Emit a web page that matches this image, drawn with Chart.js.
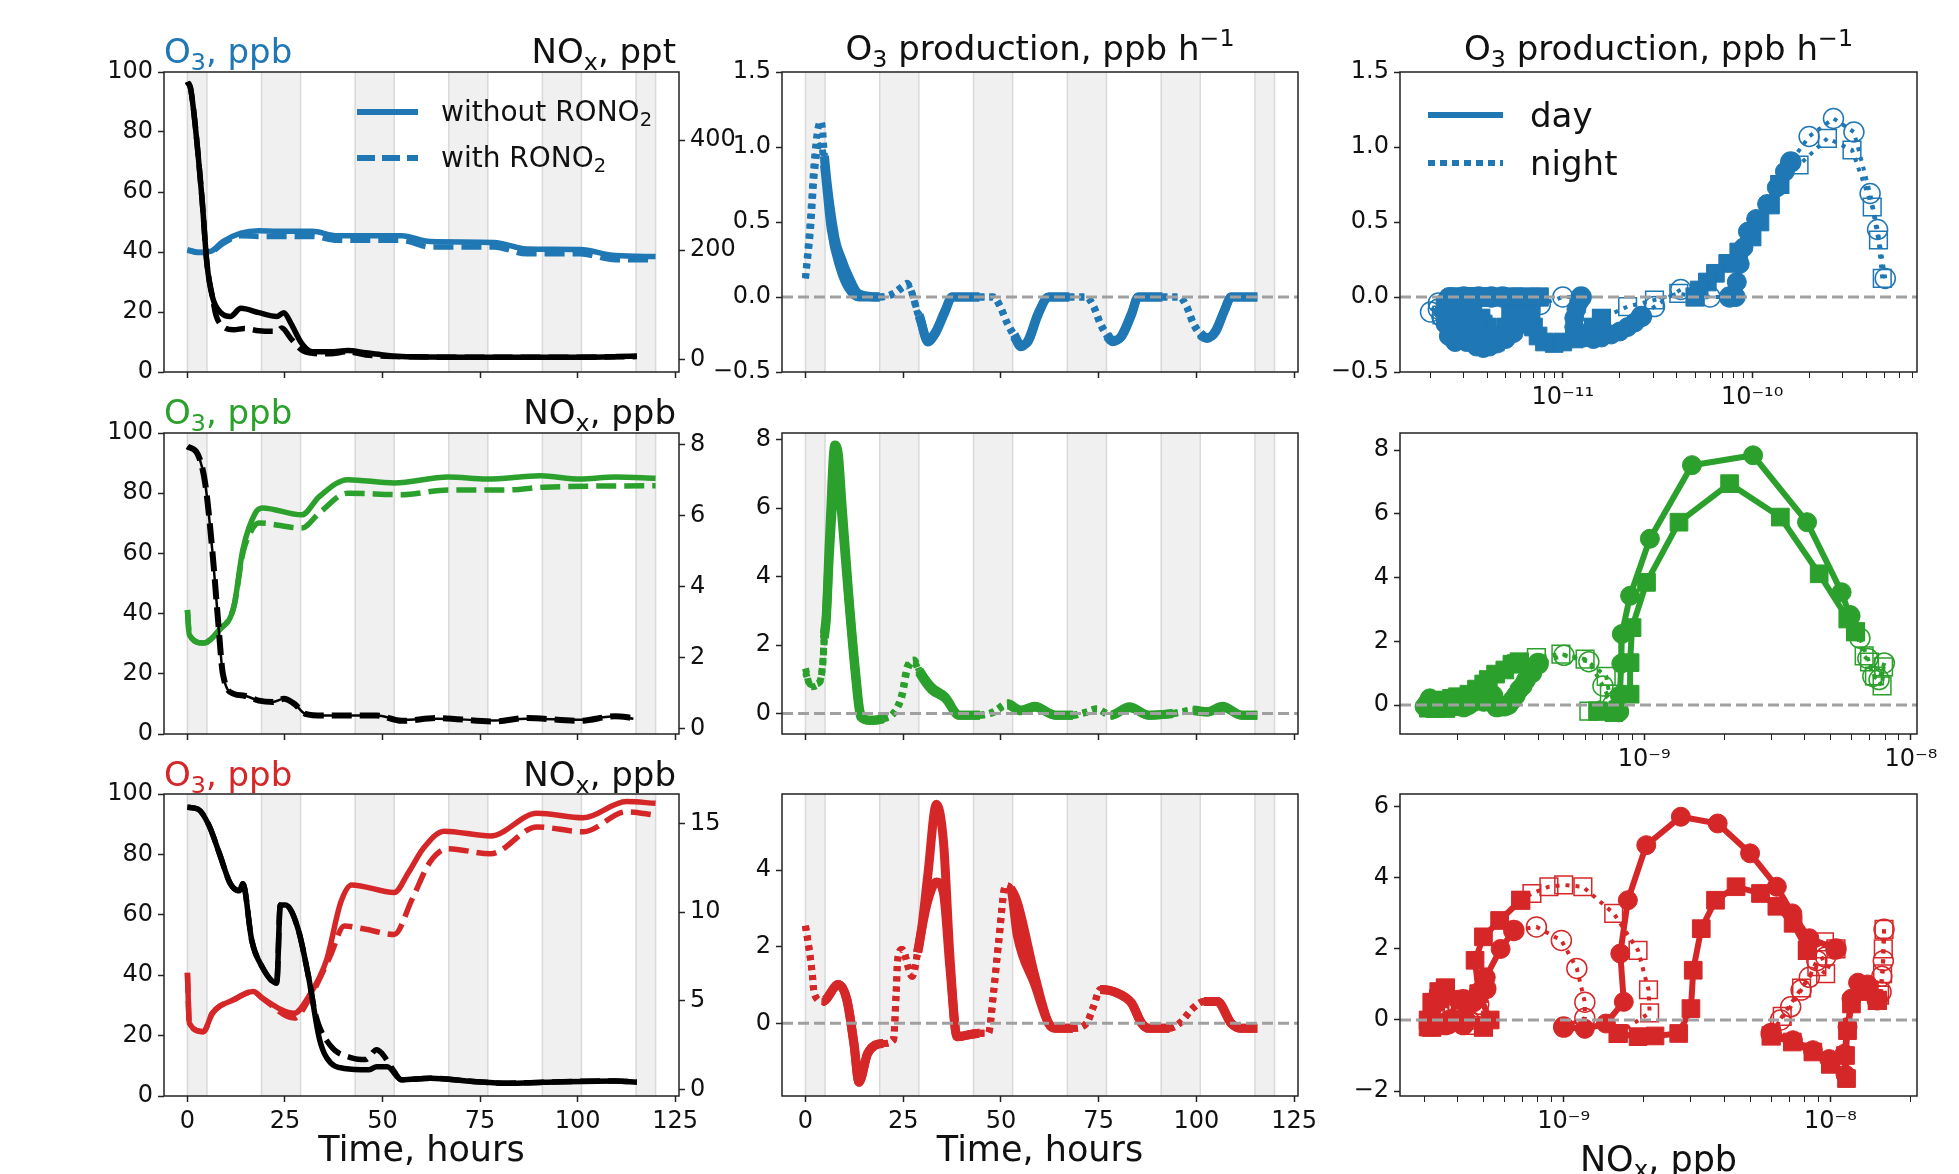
<!DOCTYPE html>
<html>
<head>
<meta charset="utf-8">
<title>O3 production and NOx</title>
<script src="https://cdn.jsdelivr.net/npm/chart.js@4.4.1/dist/chart.umd.min.js"></script>
<style>
  html, body { margin: 0; padding: 0; background: #fff; }
  body { position: relative; width: 1959px; height: 1174px; overflow: hidden; font-family: 'DejaVu Sans', sans-serif; }
  canvas { position: absolute; }
  .lbl { position: absolute; white-space: nowrap; line-height: 1; color: #111; }
  .lbl sub { font-size: 70%; vertical-align: -0.28em; line-height: 0; }
  .lbl sup { font-size: 70%; vertical-align: 0.6em; line-height: 0; }
  .key { position: absolute; }
</style>
</head>
<body>
<script>
// ---- values ----

// night periods (hours), shaded grey in the time panels
const nightBands = [[0, 5], [19, 29], [43, 53], [67, 77], [91, 101], [115, 120]];

// row 1 - O3 (ppb) and NOx (ppt)
const o3NoT1 = [0, 2.7, 5.9, 9.1, 13.7, 18.3, 22.9, 32, 38.4, 54.9, 62.2, 78.6, 86.9, 100.6, 109.7, 120];
const o3No1 = [40.8, 39.9, 40.2, 43.5, 46.3, 47.1, 46.9, 46.9, 45.4, 45.4, 43.5, 43.2, 41, 40.8, 38.8, 38.5];
const o3RoT1 = [0, 2.7, 5.9, 9.1, 13.7, 18.3, 32, 38.4, 54.9, 62.2, 78.6, 86.9, 100.6, 109.7, 120];
const o3Ro1 = [40.6, 39.8, 40, 42.8, 45.4, 45.2, 45.2, 43.9, 43.9, 41.7, 41.7, 39.4, 39.4, 37.4, 37.4];
const noxNoT1 = [0, 0.9, 3.7, 5, 6.4, 8.7, 11, 13.7, 18.3, 22.9, 24.7, 26.5, 29.3, 32, 36.6, 41.1, 45.7, 50.3, 54.9, 70, 85, 100, 110, 115.2];
const noxNo1 = [506, 491, 297, 176, 115, 85, 79, 94, 86, 79, 86, 67, 30, 15, 15, 17, 13, 9, 6, 5, 5, 5, 6, 7];
const noxRoT1 = [0, 0.9, 3.7, 5, 6.4, 7.3, 9.1, 11.9, 14.6, 18.3, 22.9, 24.2, 26.5, 29.3, 32, 36.6, 41.1, 45.7, 54.9, 70, 85, 100, 115.2];
const noxRo1 = [506, 491, 297, 176, 115, 82, 61, 55, 57, 53, 52, 58, 39, 18, 12, 11, 15, 9, 6, 5, 5, 5, 6];

// row 2 - O3 (ppb) and NOx (ppb)
const o3NoT2 = [0, 0.5, 4.1, 8.2, 11.9, 14.2, 17.4, 19.2, 29.3, 33.8, 41.1, 53, 66.8, 76.8, 90.5, 100.6, 109.7, 120];
const o3No2 = [41.2, 32.9, 30.2, 34.6, 42.3, 61.2, 73.4, 75.1, 72.8, 78.9, 84.5, 83.4, 85.4, 84.7, 85.8, 84.7, 85.4, 85];
const o3RoT2 = [0, 0.5, 4.1, 8.2, 11.9, 14.2, 16.5, 18.3, 29.3, 33.8, 41.1, 54.9, 66.8, 82.3, 91.4, 120];
const o3Ro2 = [41.2, 32.9, 30.2, 34.6, 42.3, 60, 67.8, 70.1, 68.4, 73.4, 80, 79.5, 81.1, 81.1, 82, 82.5];
const noxT2 = [0, 2.7, 4.6, 6.4, 7.8, 9.1, 11.9, 14.6, 18.3, 21.9, 24.7, 27.4, 30.2, 34.8, 48.5, 54.9, 64, 78.6, 86.9, 100.6, 109.7, 114.3];
const noxNo2 = [7.95, 7.72, 6.88, 5.0, 3.13, 1.54, 0.98, 0.93, 0.79, 0.75, 0.84, 0.70, 0.42, 0.37, 0.37, 0.25, 0.28, 0.23, 0.28, 0.25, 0.35, 0.28];
const noxRo2 = [7.95, 7.72, 6.88, 5.0, 3.13, 1.54, 0.98, 0.93, 0.79, 0.75, 0.84, 0.70, 0.42, 0.37, 0.37, 0.22, 0.3, 0.2, 0.3, 0.22, 0.35, 0.3];

// row 3 - O3 (ppb) and NOx (ppb)
const o3NoT3 = [0, 0.5, 4.1, 6.4, 11.9, 16.9, 19.2, 27.4, 31.1, 35.7, 39.3, 42.1, 53, 56.7, 60.4, 65.8, 77.7, 89.6, 101.5, 112.5, 120];
const o3No3 = [40.8, 24.1, 21.3, 27.4, 31.9, 34.6, 32.4, 27.4, 33, 45.2, 64.1, 69.9, 67.4, 74.1, 81.9, 87.7, 86.1, 93.6, 92.1, 97.5, 96.9];
const o3RoT3 = [0, 0.5, 4.1, 6.4, 11.9, 16.9, 19.2, 27.4, 31.1, 36.6, 40.2, 45.7, 53, 57.6, 62.2, 66.8, 77.7, 89.6, 101.5, 112.5, 120];
const o3Ro3 = [40.8, 24.1, 21.3, 27.4, 31.9, 34.6, 32.4, 25.8, 31.9, 46.3, 56.3, 55.2, 53.5, 65.2, 77.5, 81.9, 80.2, 89.1, 87.5, 94.1, 93];
const noxNoT3 = [0, 2.7, 5.5, 8.2, 11, 13.3, 14.2, 16.5, 19.2, 22.9, 23.8, 25.1, 28.3, 31.1, 33.8, 35.7, 40.2, 46.6, 48.5, 51.2, 54.9, 62.2, 73.2, 82.3, 91.4, 109.7, 115.2];
const noxNo3 = [15.9, 15.8, 14.9, 13.3, 11.6, 11.2, 11.6, 8.4, 6.9, 6.0, 10.4, 10.4, 9.1, 6.3, 2.9, 1.8, 1.2, 1.13, 1.3, 1.3, 0.56, 0.65, 0.47, 0.37, 0.43, 0.5, 0.43];
const noxRoT3 = [0, 2.7, 5.5, 8.2, 11, 13.3, 14.2, 16.5, 19.2, 22.9, 23.8, 25.1, 28.3, 31.1, 32.9, 36.6, 42.1, 45.7, 48.5, 49.8, 53, 54.9, 62.2, 73.2, 82.3, 91.4, 109.7, 115.2];
const noxRo3 = [15.9, 15.8, 14.9, 13.3, 11.6, 11.2, 11.6, 8.4, 6.9, 6.0, 10.4, 10.4, 9.1, 6.3, 4.2, 2.5, 1.8, 1.7, 2.26, 2.06, 1.03, 0.56, 0.65, 0.47, 0.37, 0.43, 0.5, 0.43];

// O3 production (ppb/h) against time
const prodNoT1 = [0, 1.3, 2.2, 3.1, 4.0, 4.4, 4.85, 7.5, 9.3, 11, 13.7, 19, 22.5, 24.7, 26, 27.3, 28.7, 29.1, 31.3, 33.1, 35.7, 37.5, 44.5, 48.1, 49.8, 51.6, 53.4, 55.1, 56.9, 59.5, 62.2, 67.5, 71.9, 73.7, 75.4, 77.2, 78.5, 80.7, 83.4, 85.1, 91.3, 95.7, 97.5, 99.2, 101, 102.8, 105, 107.2, 108.9, 115.6];
const prodNo1 = [0.124, 0.536, 0.89, 1.11, 1.17, 1.11, 0.94, 0.40, 0.25, 0.14, 0.02, 0, 0.024, 0.069, 0.091, 0.024, -0.109, -0.13, -0.287, -0.24, -0.09, 0, 0, 0, -0.066, -0.177, -0.264, -0.331, -0.29, -0.11, 0, 0, 0, -0.066, -0.18, -0.264, -0.298, -0.264, -0.109, 0, 0, 0, -0.066, -0.18, -0.253, -0.276, -0.22, -0.087, 0, 0];
const prodRoT1 = [0, 1.3, 2.2, 3.1, 4.0, 4.85, 6.6, 8.8, 11, 13.7, 19, 22.5, 24.7, 26, 27.3, 28.7, 29.1, 31.3, 33.1, 35.7, 37.5, 44.5, 48.1, 49.8, 51.6, 53.4, 55.1, 56.9, 59.5, 62.2, 67.5, 71.9, 73.7, 75.4, 77.2, 78.5, 80.7, 83.4, 85.1, 91.3, 95.7, 97.5, 99.2, 101, 102.8, 105, 107.2, 108.9, 115.6];
const prodRo1 = [0.124, 0.45, 0.80, 0.98, 1.01, 0.88, 0.45, 0.2, 0.06, 0, 0, 0.02, 0.06, 0.08, 0.02, -0.1, -0.12, -0.3, -0.25, -0.1, 0, 0, 0, -0.06, -0.17, -0.25, -0.32, -0.3, -0.12, 0, 0, 0, -0.06, -0.17, -0.25, -0.29, -0.27, -0.12, 0, 0, 0, -0.06, -0.17, -0.24, -0.27, -0.23, -0.09, 0, 0];

const prodNoT2 = [0, 1.3, 3.5, 4.4, 4.85, 5.3, 6.2, 7.5, 8.4, 9.3, 11, 12.8, 14.1, 16.3, 19.9, 22.5, 24.7, 26, 27.8, 29.1, 32.2, 35.7, 39.3, 44.6, 48.1, 51.6, 55.1, 58.7, 64, 68.4, 71.9, 74.5, 78.1, 82.9, 87.8, 94, 99.2, 102.8, 106.7, 111.6, 115.6];
const prodNo2 = [1.32, 0.78, 0.88, 1.46, 2.34, 2.83, 5.27, 7.85, 7.6, 6.2, 3.6, 1.25, 0, -0.2, -0.15, 0, 0.58, 1.36, 1.56, 1.27, 0.78, 0.49, -0.05, -0.05, 0.05, 0.29, 0.1, 0.21, -0.05, -0.05, 0.05, 0.14, -0.05, 0.2, -0.05, 0, 0.1, 0.05, 0.21, -0.05, -0.05];
const prodRoT2 = [0, 1.3, 3.5, 4.4, 4.85, 5.3, 6.2, 7.8, 8.6, 9.5, 11, 12.8, 14.1, 16.3, 19.9, 22.5, 24.7, 26, 27.8, 29.1, 32.2, 35.7, 39.3, 44.6, 48.1, 51.6, 55.1, 58.7, 64, 68.4, 71.9, 74.5, 78.1, 82.9, 87.8, 94, 99.2, 102.8, 106.7, 111.6, 115.6];
const prodRo2 = [1.2, 0.85, 0.9, 1.4, 2.2, 2.7, 4.8, 6.95, 6.6, 5.5, 3.4, 1.1, -0.1, -0.2, -0.15, 0, 0.5, 1.25, 1.5, 1.2, 0.7, 0.45, -0.05, -0.05, 0.03, 0.25, 0.08, 0.18, -0.05, -0.05, 0.03, 0.12, -0.05, 0.17, -0.05, 0, 0.08, 0.04, 0.18, -0.05, -0.05];

const prodT3 = [0, 1.3, 1.8, 2.2, 4.4, 8.4, 10.6, 12.4, 13.7, 15.9, 19.9, 22.5, 23.2, 23.6, 24.7, 27.3, 28.7, 29.6, 31.3, 33.5, 35.3, 37, 38.8, 44.5, 46.8, 48.1, 49.4, 51.2, 52.5, 54.2, 58.7, 62.2, 64, 68.4, 71.9, 73.7, 75.4, 79.8, 83.4, 86, 87.8, 93.1, 95.7, 99.2, 101.9, 105.4, 108.9, 111.6, 115.6];
const prodNo3 = [2.55, 1.67, 1.23, 0.79, 0.57, 1.01, 0.61, -0.53, -1.54, -0.79, -0.53, -0.44, 0.79, 1.67, 1.93, 1.23, 1.85, 2.38, 3.87, 5.72, 4.75, 1.67, -0.35, -0.26, -0.26, 0.79, 2.1, 3.6, 3.52, 3.16, 1.23, 0, -0.13, -0.13, 0, 0.44, 0.88, 0.79, 0.53, 0, -0.13, -0.13, 0, 0.4, 0.57, 0.57, 0, -0.13, -0.13];
const prodRo3 = [2.55, 1.67, 1.23, 0.79, 0.57, 1.01, 0.61, -0.53, -1.54, -0.79, -0.53, -0.44, 0.79, 1.67, 1.93, 1.23, 1.85, 2.38, 3.2, 3.69, 3.4, 1.4, -0.35, -0.26, -0.26, 0.79, 2.1, 3.6, 3.52, 2.29, 1.0, 0, -0.13, -0.13, 0, 0.44, 0.88, 0.79, 0.53, 0, -0.13, -0.13, 0, 0.4, 0.57, 0.57, 0, -0.13, -0.13];

// O3 production against NOx: [NOx, P(O3)] pairs, null = break between days
const circDay1 = [[1.6e-10, 0.9], [1.49e-10, 0.836], [1.35e-10, 0.73], [1.2e-10, 0.62], [1.05e-10, 0.52], [9.5e-11, 0.436], [9.0e-11, 0.33], [8.6e-11, 0.22], [8.3e-11, 0.1], [8.2e-11, 0.0], [7.6e-11, 0.0], null,
  [2.6e-11, -0.13], [2.4e-11, -0.17], [2.2e-11, -0.2], [2.0e-11, -0.23], [1.8e-11, -0.25], [1.6e-11, -0.27], [1.45e-11, -0.28], [1.3e-11, -0.27], [1.2e-11, -0.24], [1.15e-11, -0.2], [1.15e-11, -0.14], [1.18e-11, -0.08], [1.22e-11, -0.03], [1.25e-11, 0.0], null,
  [6.5e-12, -0.12], [6.0e-12, -0.18], [5.5e-12, -0.24], [5.0e-12, -0.28], [4.5e-12, -0.31], [4.1e-12, -0.33], [3.8e-12, -0.34], [3.5e-12, -0.33], [3.3e-12, -0.3], [3.2e-12, -0.25], [3.1e-12, -0.18], [3.1e-12, -0.11], [3.2e-12, -0.05], [3.4e-12, 0.0], [4.0e-12, 0.0], [4.8e-12, 0.0], null,
  [3.0e-12, -0.08], [3.4e-12, -0.15], [3.6e-12, -0.22], [3.4e-12, -0.28], [3.1e-12, -0.3], [2.8e-12, -0.28], [2.6e-12, -0.22], [2.5e-12, -0.15], [2.5e-12, -0.07], [2.6e-12, 0.0], [3.2e-12, 0.0], [4.2e-12, 0.0], null,
  [2.6e-12, -0.1], [2.9e-12, -0.16], [3.1e-12, -0.22], [2.9e-12, -0.28], [2.7e-12, -0.3], [2.5e-12, -0.26], [2.4e-12, -0.18], [2.35e-12, -0.1], [2.4e-12, -0.03], [2.5e-12, 0.0], [3.0e-12, 0.0]];
const circNight1 = [[5.05e-10, 0.124], [4.6e-10, 0.45], [4.2e-10, 0.69], [3.45e-10, 1.10], [2.69e-10, 1.19], [2.0e-10, 1.07], [1.6e-10, 0.9], null,
  [7.6e-11, 0.0], [6.0e-11, 0.0], [4.2e-11, 0.05], [3.05e-11, -0.064], [2.6e-11, -0.13], null,
  [1.25e-11, 0.0], [1.0e-11, 0.0], [7.6e-12, -0.05], [6.5e-12, -0.12], null,
  [4.8e-12, 0.0], [3.6e-12, 0.0], [2.7e-12, -0.02], [2.2e-12, -0.08], [2.5e-12, -0.1], [3.0e-12, -0.08], null,
  [4.2e-12, 0.0], [3.0e-12, 0.0], [2.2e-12, -0.04], [2.0e-12, -0.1], [2.3e-12, -0.13], [2.6e-12, -0.1]];
const sqDay1 = [[1.4e-10, 0.75], [1.25e-10, 0.613], [1.1e-10, 0.5], [1.0e-10, 0.4], [8.5e-11, 0.3], [7.43e-11, 0.224], [6.4e-11, 0.158], [5.8e-11, 0.1], [5.25e-11, 0.047], [5.0e-11, 0.0], null,
  [1.6e-11, -0.142], [1.45e-11, -0.2], [1.3e-11, -0.25], [1.15e-11, -0.28], [1.0e-11, -0.3], [9.0e-12, -0.31], [8.0e-12, -0.3], [7.4e-12, -0.26], [7.0e-12, -0.2], [6.8e-12, -0.12], [6.8e-12, -0.05], [6.8e-12, 0.0], [7.5e-12, 0.0], null,
  [5.5e-12, -0.05], [5.3e-12, -0.12], [5.0e-12, -0.2], [4.7e-12, -0.26], [4.4e-12, -0.3], [4.0e-12, -0.3], [3.8e-12, -0.28], [3.6e-12, -0.22], [3.4e-12, -0.15], [3.35e-12, -0.07], [3.4e-12, 0.0], [4.4e-12, 0.0], [5.5e-12, 0.0], null,
  [3.2e-12, -0.08], [3.7e-12, -0.14], [4.0e-12, -0.2], [3.8e-12, -0.25], [3.6e-12, -0.28], [3.3e-12, -0.27], [3.0e-12, -0.26], [2.9e-12, -0.19], [2.8e-12, -0.12], [2.85e-12, -0.05], [3.0e-12, 0.0], [3.8e-12, 0.0], null,
  [3.0e-12, -0.1], [3.5e-12, -0.15], [3.8e-12, -0.18], [3.6e-12, -0.22], [3.3e-12, -0.26], [3.0e-12, -0.25], [2.8e-12, -0.24], [2.7e-12, -0.17], [2.6e-12, -0.1], [2.7e-12, -0.04], [2.8e-12, 0.0], [3.5e-12, 0.0]];
const sqNight1 = [[4.87e-10, 0.124], [4.65e-10, 0.38], [4.31e-10, 0.6], [3.37e-10, 0.98], [2.5e-10, 1.058], [1.77e-10, 0.88], [1.4e-10, 0.75], null,
  [5.0e-11, 0.0], [4.1e-11, 0.024], [3.05e-11, -0.02], [2.2e-11, -0.064], [1.6e-11, -0.142], null,
  [7.5e-12, 0.0], [6.0e-12, 0.0], [5.5e-12, -0.05], null,
  [5.5e-12, 0.0], [4.0e-12, 0.0], [3.0e-12, -0.03], [2.6e-12, -0.1], [2.8e-12, -0.12], [3.2e-12, -0.08], null,
  [3.8e-12, 0.0], [3.0e-12, 0.0], [2.6e-12, -0.05], [2.3e-12, -0.12], [2.6e-12, -0.14], [3.0e-12, -0.1]];

const circDay2 = [[5.9e-9, 2.8], [5.5e-9, 3.54], [4.08e-9, 5.74], [2.56e-9, 7.84], [1.51e-9, 7.53], [1.05e-9, 5.22], [8.85e-10, 3.43], [8.24e-10, 2.23], [8.2e-10, 1.3], [8.1e-10, 0.3], [8.0e-10, -0.2], null,
  [4.0e-10, 1.3], [3.8e-10, 1.0], [3.6e-10, 0.78], [3.5e-10, 0.6], [3.4e-10, 0.49], [3.3e-10, 0.3], [3.2e-10, 0.15], [3.1e-10, 0.0], [3.0e-10, -0.05], [2.9e-10, -0.05], [2.8e-10, -0.05], null,
  [2.7e-10, 0.29], [2.6e-10, 0.2], [2.5e-10, 0.1], [2.45e-10, 0.15], [2.4e-10, 0.21], [2.3e-10, 0.1], [2.2e-10, 0.0], [2.1e-10, -0.05], null,
  [2.0e-10, 0.14], [1.95e-10, 0.05], [1.9e-10, 0.15], [1.85e-10, 0.2], [1.8e-10, 0.08], [1.75e-10, -0.05], [1.7e-10, -0.05], null,
  [1.65e-10, 0.1], [1.62e-10, 0.05], [1.6e-10, 0.15], [1.57e-10, 0.21], [1.54e-10, 0.08], [1.5e-10, -0.05]];
const circNight2 = [[7.95e-9, 1.32], [7.6e-9, 0.8], [7.2e-9, 0.9], [6.9e-9, 1.46], [6.44e-9, 2.1], [5.9e-9, 2.8], null,
  [8.0e-10, -0.2], [7.6e-10, 0.0], [7.0e-10, 0.6], [6.2e-10, 1.36], [5.0e-10, 1.56], [4.0e-10, 1.3], null,
  [2.8e-10, -0.05], [2.75e-10, 0.05], [2.7e-10, 0.29], null,
  [2.1e-10, -0.05], [2.05e-10, 0.05], [2.0e-10, 0.14], null,
  [1.7e-10, -0.05], [1.67e-10, 0.0], [1.65e-10, 0.1]];
const sqDay2 = [[6.2e-9, 2.3], [5.8e-9, 2.7], [4.53e-9, 4.12], [3.24e-9, 5.9], [2.09e-9, 6.95], [1.35e-9, 5.74], [1.02e-9, 3.85], [9.0e-10, 2.43], [8.85e-10, 1.33], [8.85e-10, 0.34], [7.7e-10, -0.24], [6.7e-10, -0.19], null,
  [3.4e-10, 1.35], [3.3e-10, 1.3], [3.19e-10, 1.28], [3.0e-10, 1.1], [2.77e-10, 0.97], [2.6e-10, 0.8], [2.5e-10, 0.66], [2.35e-10, 0.5], [2.2e-10, 0.34], [2.05e-10, 0.2], [1.95e-10, 0.08], [1.8e-10, 0.0], [1.64e-10, -0.08], null,
  [2.0e-10, 0.25], [1.95e-10, 0.15], [1.9e-10, 0.05], [1.85e-10, -0.05], [1.8e-10, -0.1], null,
  [1.9e-10, 0.2], [1.8e-10, 0.1], [1.72e-10, 0.0], [1.65e-10, -0.1], null,
  [1.8e-10, 0.15], [1.7e-10, 0.05], [1.62e-10, -0.05], [1.55e-10, -0.1]];
const sqNight2 = [[7.9e-9, 1.2], [7.8e-9, 0.6], [7.3e-9, 0.91], [7.0e-9, 1.35], [6.68e-9, 1.54], [6.2e-9, 2.3], null,
  [6.7e-10, -0.19], [6.2e-10, -0.19], [7.4e-10, 0.34], [7.2e-10, 0.9], [6.0e-10, 1.44], [4.87e-10, 1.6], [3.94e-10, 1.49], [3.4e-10, 1.35], null,
  [1.64e-10, -0.08], [1.8e-10, 0.1], [2.0e-10, 0.25], null,
  [1.8e-10, -0.1], [1.85e-10, 0.05], [1.9e-10, 0.2], null,
  [1.65e-10, -0.1], [1.72e-10, 0.0], [1.8e-10, 0.15]];

const circDay3 = [[1.5e-8, 0.57], [1.38e-8, 1.0], [1.27e-8, 1.05], [1.2e-8, 0.6], [1.16e-8, -0.2], [1.13e-8, -0.95], [1.14e-8, -1.54], [9.9e-9, -1.1], [8.6e-9, -0.85], [7.24e-9, -0.57], [6.0e-9, -0.38], null,
  [1.05e-8, 2.0], [8.34e-9, 2.3], [7.2e-9, 3.0], [6.3e-9, 3.75], [5.0e-9, 4.69], [3.78e-9, 5.53], [2.75e-9, 5.72], [2.04e-9, 4.92], [1.74e-9, 3.37], [1.63e-9, 1.87], [1.68e-9, 0.51], [1.44e-9, -0.1], [1.2e-9, -0.25], [1.0e-9, -0.2], null,
  [6.5e-10, 2.52], [5.8e-10, 2.0], [5.1e-10, 1.2], [4.6e-10, 0.5], [4.3e-10, 0.0], [4.2e-10, -0.13], null,
  [5.1e-10, 0.88], [4.8e-10, 0.79], [4.5e-10, 0.53], [4.0e-10, 0.0], [3.7e-10, -0.13], [3.6e-10, -0.13], null,
  [4.2e-10, 0.57], [4.0e-10, 0.57], [3.7e-10, 0.0], [3.5e-10, -0.13], [3.3e-10, -0.13]];
const circNight3 = [[1.59e-8, 2.55], [1.58e-8, 1.67], [1.56e-8, 1.23], [1.55e-8, 0.79], [1.5e-8, 0.57], null,
  [6.0e-9, -0.38], [6.5e-9, 0.0], [7.1e-9, 0.37], [7.77e-9, 0.84], [8.34e-9, 1.2], [8.9e-9, 1.67], [9.6e-9, 1.77], [1.05e-8, 2.0], null,
  [1.0e-9, -0.2], [1.2e-9, 0.05], [1.2e-9, 0.5], [1.12e-9, 1.45], [9.8e-10, 2.24], [7.9e-10, 2.62], [6.5e-10, 2.52], null,
  [4.2e-10, -0.13], [4.4e-10, 0.0], [4.8e-10, 0.44], [5.1e-10, 0.88], null,
  [3.6e-10, -0.13], [3.8e-10, 0.0], [4.0e-10, 0.4], [4.2e-10, 0.57]];
const sqDay3 = [[1.5e-8, 0.55], [1.4e-8, 0.85], [1.3e-8, 0.8], [1.2e-8, 0.45], [1.16e-8, -0.3], [1.14e-8, -1.0], [1.15e-8, -1.65], [1.0e-8, -1.25], [8.6e-9, -0.9], [7.2e-9, -0.62], [6.0e-9, -0.45], null,
  [8.2e-9, 1.96], [7.25e-9, 2.72], [6.3e-9, 3.2], [5.47e-9, 3.56], [4.43e-9, 3.75], [3.71e-9, 3.37], [3.28e-9, 2.57], [3.06e-9, 1.4], [3.0e-9, 0.32], [2.7e-9, -0.38], [2.2e-9, -0.45], [1.9e-9, -0.47], [1.6e-9, -0.38], null,
  [6.9e-10, 3.37], [5.75e-10, 2.8], [5.0e-10, 2.34], [4.65e-10, 1.68], [4.8e-10, 0.74], [5.3e-10, 0.0], [5.0e-10, -0.2], null,
  [3.6e-10, 0.9], [3.4e-10, 0.8], [3.2e-10, 0.5], [3.1e-10, 0.0], [3.2e-10, -0.2], null,
  [3.4e-10, 0.6], [3.3e-10, 0.5], [3.2e-10, 0.0], [3.1e-10, -0.2]];
const sqNight3 = [[1.59e-8, 2.55], [1.58e-8, 2.0], [1.57e-8, 1.3], [1.53e-8, 0.7], [1.5e-8, 0.55], null,
  [6.0e-9, -0.45], [6.6e-9, 0.1], [7.8e-9, 0.9], [8.9e-9, 1.5], [9.6e-9, 1.3], [1.05e-8, 2.0], [9.5e-9, 2.2], [8.2e-9, 1.96], null,
  [1.6e-9, -0.38], [2.1e-9, 0.2], [2.08e-9, 0.85], [1.9e-9, 1.96], [1.54e-9, 3.0], [1.18e-9, 3.75], [1.0e-9, 3.8], [8.8e-10, 3.75], [7.6e-10, 3.56], [6.9e-10, 3.37], null,
  [5.0e-10, -0.2], [4.5e-10, -0.15], [4.0e-10, 0.4], [3.6e-10, 0.9], null,
  [3.2e-10, -0.2], [3.3e-10, 0.2], [3.4e-10, 0.6]];

// ---- layout ----
const BLUE = '#1f77b4', GREEN = '#2ca02c', RED = '#d62728';
const colLeft = [164, 782, 1400], colRight = [679, 1298, 1917];
const rowTop = [72, 433, 794], rowBottom = [372, 734, 1096];
const PAD = 100, PADT = 20, PADB = 60;
const TICK_FONT = 24;

Chart.defaults.font.family = "'DejaVu Sans', sans-serif";
Chart.defaults.color = '#111';

// grey night shading, dashed zero line and the box around every panel
Chart.register({
  id: 'panel',
  beforeDatasetsDraw(chart, args, opts) {
    if (!opts.bands) return;
    const { ctx, chartArea: a, scales } = chart;
    ctx.save();
    nightBands.forEach(([b0, b1]) => {
      const x0 = scales.x.getPixelForValue(b0), x1 = scales.x.getPixelForValue(b1);
      ctx.fillStyle = '#f0f0f0';
      ctx.fillRect(x0, a.top, x1 - x0, a.bottom - a.top);
      ctx.strokeStyle = '#d9d9d9';
      ctx.lineWidth = 1.5;
      ctx.beginPath();
      ctx.moveTo(x0, a.top); ctx.lineTo(x0, a.bottom);
      ctx.moveTo(x1, a.top); ctx.lineTo(x1, a.bottom);
      ctx.stroke();
    });
    ctx.restore();
  },
  afterDatasetsDraw(chart, args, opts) {
    const { ctx, chartArea: a, scales } = chart;
    ctx.save();
    if (opts.zero) {
      const y0 = scales.y.getPixelForValue(0);
      ctx.strokeStyle = '#a0a0a0';
      ctx.lineWidth = 3;
      ctx.setLineDash([11, 5]);
      ctx.beginPath(); ctx.moveTo(a.left, y0); ctx.lineTo(a.right, y0); ctx.stroke();
      ctx.setLineDash([]);
    }
    ctx.strokeStyle = '#222';
    ctx.lineWidth = 1.5;
    ctx.strokeRect(a.left, a.top, a.right - a.left, a.bottom - a.top);
    ctx.restore();
  }
});

function fmt(v, d) {
  if (Math.abs(v) < 1e-9) v = 0;
  return v.toFixed(d).replace('-', '\u2212');
}

const SUP = { '-': '\u207b', '0': '\u2070', '1': '\u00b9', '2': '\u00b2', '3': '\u00b3', '4': '\u2074', '5': '\u2075', '6': '\u2076', '7': '\u2077', '8': '\u2078', '9': '\u2079' };
function isDecade(v) {
  if (!v) return false;
  const e = Math.log10(v);
  return Math.abs(e - Math.round(e)) < 1e-6;
}
function decadeLabel(v) {
  return '10' + String(Math.round(Math.log10(v))).split('').map(c => SUP[c]).join('');
}

function linAxis(pos, min, max, step, opt) {
  opt = opt || {};
  return {
    type: 'linear', position: pos, min: min, max: max,
    border: { display: false },
    grid: { drawOnChartArea: false, drawTicks: true, tickLength: 6, tickColor: '#222', tickWidth: 1.5 },
    ticks: {
      stepSize: step, includeBounds: false, autoSkip: false, maxRotation: 0, padding: 5,
      color: '#111', font: { size: TICK_FONT }, display: opt.labels !== false,
      callback: v => fmt(v, opt.dec || 0)
    },
    afterFit: pos === 'bottom' ? (s => { s.height = PADB; }) : (s => { s.width = PAD; })
  };
}

function logAxis(minExp, maxExp) {
  const lo = Math.pow(10, minExp), hi = Math.pow(10, maxExp);
  return {
    type: 'logarithmic', position: 'bottom', min: lo, max: hi,
    border: { display: false },
    grid: { drawOnChartArea: false, drawTicks: true, tickLength: 6, tickColor: '#222',
            tickWidth: c => (c.tick && isDecade(c.tick.value)) ? 1.5 : 1 },
    ticks: { autoSkip: false, maxRotation: 0, padding: 5, color: '#111', font: { size: TICK_FONT },
             callback: v => isDecade(v) ? decadeLabel(v) : '' },
    afterBuildTicks: s => {
      const t = [];
      for (let e = Math.floor(minExp); e <= Math.ceil(maxExp); e++) {
        for (let m = 1; m < 10; m++) {
          const v = m * Math.pow(10, e);
          if (v >= lo && v <= hi) t.push({ value: v });
        }
      }
      s.ticks = t;
    },
    afterFit: s => { s.height = PADB; }
  };
}

function makeCanvas(col, row) {
  const L = colLeft[col], R = colRight[col], T = rowTop[row], B = rowBottom[row];
  const cv = document.createElement('canvas');
  cv.width = R - L + 2 * PAD;
  cv.height = B - T + PADT + PADB;
  cv.style.left = (L - PAD) + 'px';
  cv.style.top = (T - PADT) + 'px';
  document.body.appendChild(cv);
  return cv;
}

function baseOptions(hasRight, scales, panel) {
  return {
    responsive: false, animation: false, devicePixelRatio: 1, events: [],
    layout: { padding: { top: PADT, right: hasRight ? 0 : PAD, left: 0, bottom: 0 } },
    plugins: { legend: { display: false }, tooltip: { enabled: false }, panel: panel },
    elements: { point: { radius: 0 }, line: { fill: false } },
    scales: scales
  };
}

function xy(t, v) { return t.map((x, i) => ({ x: x, y: v[i] })); }
function pairs(a) { return a.map(p => p ? { x: p[0], y: p[1] } : { x: null, y: null }); }
function isNight(t) { return nightBands.some(([a, b]) => t > a && t < b); }

// ---- left column: O3 and NOx against time ----
function timePanel(row, color, o3No, o3Ro, noxNo, noxRo, noxMin, noxMax, noxStep, thinSolid) {
  const sets = [
    { data: noxNo, yAxisID: 'y2', borderColor: '#000', borderWidth: thinSolid ? 2.5 : 5.5 },
    { data: noxRo, yAxisID: 'y2', borderColor: '#000', borderWidth: thinSolid ? 6 : 5.5, borderDash: [20, 8] },
    { data: o3No, yAxisID: 'y', borderColor: color, borderWidth: 5.5 },
    { data: o3Ro, yAxisID: 'y', borderColor: color, borderWidth: 5.5, borderDash: [20, 8] }
  ];
  sets.forEach(s => { s.cubicInterpolationMode = 'monotone'; s.pointRadius = 0; });
  new Chart(makeCanvas(0, row), {
    type: 'line',
    data: { datasets: sets },
    options: baseOptions(true, {
      x: linAxis('bottom', -6, 126, 25, { labels: row === 2 }),
      y: linAxis('left', 0, 100, 20),
      y2: linAxis('right', noxMin, noxMax, noxStep)
    }, { bands: true })
  });
}

timePanel(0, BLUE, xy(o3NoT1, o3No1), xy(o3RoT1, o3Ro1), xy(noxNoT1, noxNo1), xy(noxRoT1, noxRo1), -22, 524, 200, false);
timePanel(1, GREEN, xy(o3NoT2, o3No2), xy(o3RoT2, o3Ro2), xy(noxT2, noxNo2), xy(noxT2, noxRo2), -0.15, 8.33, 2, true);
timePanel(2, RED, xy(o3NoT3, o3No3), xy(o3RoT3, o3Ro3), xy(noxNoT3, noxNo3), xy(noxRoT3, noxRo3), -0.35, 16.65, 5, false);

// ---- middle column: O3 production against time ----
function prodSet(t, v, color) {
  const night = c => isNight((t[c.p0DataIndex] + t[c.p1DataIndex]) / 2);
  return {
    data: xy(t, v), borderColor: color, borderWidth: 9, pointRadius: 0,
    cubicInterpolationMode: 'monotone',
    segment: {
      borderDash: c => night(c) ? [5, 5] : undefined,
      borderWidth: c => night(c) ? 7 : undefined
    }
  };
}

function prodPanel(row, sets, yMin, yMax, step, dec) {
  new Chart(makeCanvas(1, row), {
    type: 'line',
    data: { datasets: sets },
    options: baseOptions(false, {
      x: linAxis('bottom', -6, 126, 25, { labels: row === 2 }),
      y: linAxis('left', yMin, yMax, step, { dec: dec })
    }, { bands: true, zero: true })
  });
}

prodPanel(0, [prodSet(prodNoT1, prodNo1, BLUE), prodSet(prodRoT1, prodRo1, BLUE)], -0.5, 1.5, 0.5, 1);
prodPanel(1, [prodSet(prodNoT2, prodNo2, GREEN), prodSet(prodRoT2, prodRo2, GREEN)], -0.6, 8.2, 2, 0);
prodPanel(2, [prodSet(prodT3, prodNo3, RED), prodSet(prodT3, prodRo3, RED)], -1.9, 5.99, 2, 0);

// ---- right column: O3 production against NOx ----
function daySet(pts, color, shape) {
  return {
    data: pairs(pts), borderColor: color, borderWidth: 6,
    pointStyle: shape, pointRadius: shape === 'rect' ? 12.5 : 9.5,
    pointBackgroundColor: color, pointBorderColor: color, pointBorderWidth: 1
  };
}
function nightSet(pts, color, shape) {
  return {
    data: pairs(pts), borderColor: color, borderWidth: 4, borderDash: [4, 6],
    pointStyle: shape, pointRadius: shape === 'rect' ? 12.5 : 10,
    pointBackgroundColor: 'rgba(255,255,255,0)', pointBorderColor: color, pointBorderWidth: 1.5
  };
}

function noxPanel(row, color, cd, sd, cn, sn, xMinExp, xMaxExp, yMin, yMax, step, dec) {
  new Chart(makeCanvas(2, row), {
    type: 'line',
    data: { datasets: [daySet(cd, color, 'circle'), daySet(sd, color, 'rect'), nightSet(cn, color, 'circle'), nightSet(sn, color, 'rect')] },
    options: baseOptions(false, {
      x: logAxis(xMinExp, xMaxExp),
      y: linAxis('left', yMin, yMax, step, { dec: dec })
    }, { zero: true })
  });
}

noxPanel(0, BLUE, circDay1, sqDay1, circNight1, sqNight1, -11.86, -9.129, -0.5, 1.5, 0.5, 1);
noxPanel(1, GREEN, circDay2, sqDay2, circNight2, sqNight2, -9.916, -7.977, -0.91, 8.54, 2, 0);
noxPanel(2, RED, circDay3, sqDay3, circNight3, sqNight3, -9.614, -7.675, -2.14, 6.36, 2, 0);

// ---- text and legends ----
function addLabel(html, x, baseline, size, color, align) {
  const d = document.createElement('div');
  d.className = 'lbl';
  d.innerHTML = html;
  d.style.fontSize = size + 'px';
  d.style.color = color || '#111';
  d.style.left = x + 'px';
  d.style.top = (baseline - 0.846 * size) + 'px';
  if (align === 'center') d.style.transform = 'translateX(-50%)';
  if (align === 'right') d.style.transform = 'translateX(-100%)';
  document.body.appendChild(d);
}
function addKey(x, y, w, h, bg) {
  const d = document.createElement('div');
  d.className = 'key';
  d.style.left = x + 'px';
  d.style.top = (y - h / 2) + 'px';
  d.style.width = w + 'px';
  d.style.height = h + 'px';
  d.style.background = bg;
  document.body.appendChild(d);
}

const o3Colors = [BLUE, GREEN, RED];
const noxUnits = ['ppt', 'ppb', 'ppb'];
const labelBase = [63, 424, 786];
for (let r = 0; r < 3; r++) {
  addLabel('O<sub>3</sub>, ppb', colLeft[0], labelBase[r], 34, o3Colors[r]);
  addLabel('NO<sub>x</sub>, ' + noxUnits[r], colRight[0] - 3, labelBase[r], 34, '#111', 'right');
}
addLabel('O<sub>3</sub> production, ppb h<sup>\u22121</sup>', (colLeft[1] + colRight[1]) / 2, 60, 34, '#111', 'center');
addLabel('O<sub>3</sub> production, ppb h<sup>\u22121</sup>', (colLeft[2] + colRight[2]) / 2, 60, 34, '#111', 'center');
addLabel('Time, hours', (colLeft[0] + colRight[0]) / 2, 1162, 35, '#111', 'center');
addLabel('Time, hours', (colLeft[1] + colRight[1]) / 2, 1162, 35, '#111', 'center');
addLabel('NO<sub>x</sub>, ppb', (colLeft[2] + colRight[2]) / 2, 1172, 35, '#111', 'center');

// legend: model runs
addKey(357, 112, 61, 6, BLUE);
addKey(357, 158, 61, 6, 'repeating-linear-gradient(90deg, ' + BLUE + ' 0 18px, transparent 18px 25px)');
addLabel('without RONO<sub>2</sub>', 441, 122, 28, '#111');
addLabel('with RONO<sub>2</sub>', 441, 168, 28, '#111');

// legend: day / night
addKey(1428, 115, 75, 6, BLUE);
addKey(1428, 163, 75, 6, 'repeating-linear-gradient(90deg, ' + BLUE + ' 0 7px, transparent 7px 12px)');
addLabel('day', 1530, 127, 34, '#111');
addLabel('night', 1530, 175, 34, '#111');
</script>
</body>
</html>
